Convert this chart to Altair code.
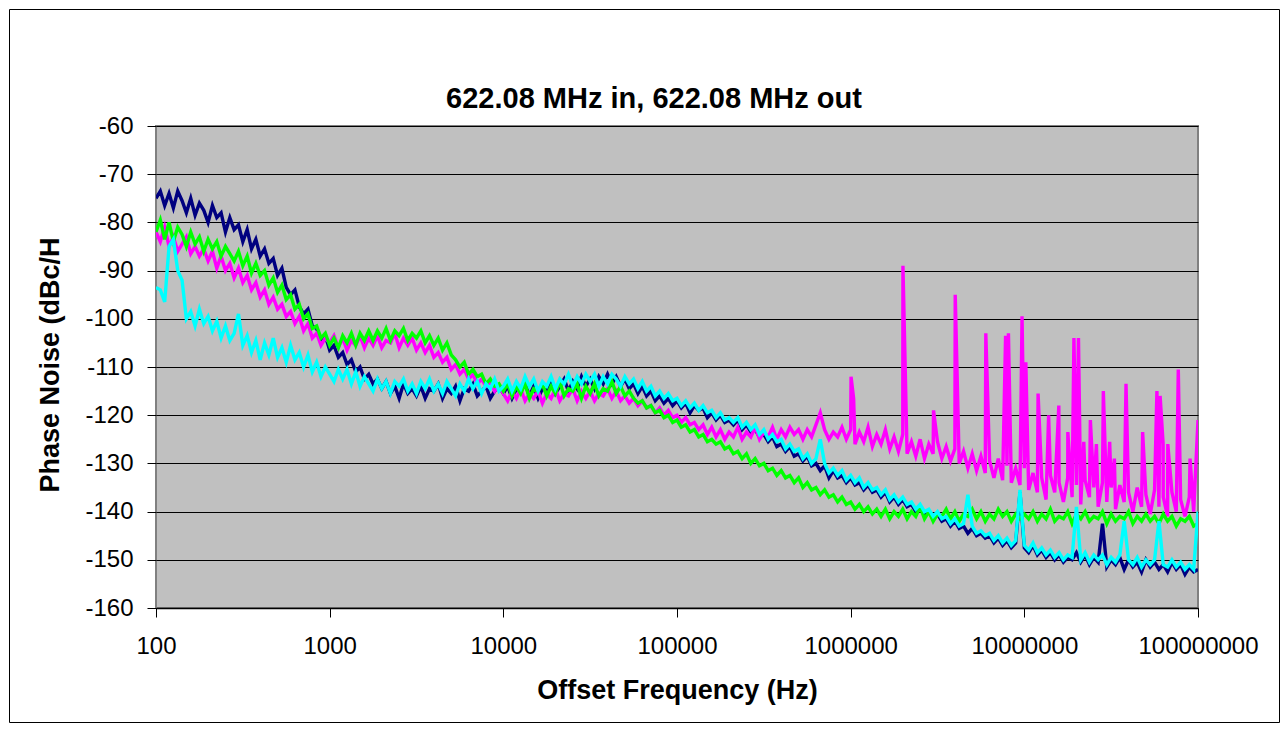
import altair as alt
import pandas as pd

TITLE = "622.08 MHz in, 622.08 MHz out"
X_TITLE = "Offset Frequency (Hz)"
Y_TITLE = "Phase Noise (dBc/H"

X_TICKS = [100, 1000, 10000, 100000, 1000000, 10000000, 100000000]
Y_TICKS = [-160, -150, -140, -130, -120, -110, -100, -90, -80, -70, -60]

DECADES = [100, 1000, 10000, 100000, 1000000, 10000000]
MANTISSAS = [1.000, 1.059, 1.122, 1.189, 1.259, 1.334, 1.413, 1.496, 1.585, 1.679,
             1.778, 1.884, 1.995, 2.113, 2.239, 2.371, 2.512, 2.661, 2.818, 2.985,
             3.162, 3.350, 3.548, 3.758, 3.981, 4.217, 4.467, 4.732, 5.012, 5.309,
             5.623, 5.957, 6.310, 6.683, 7.079, 7.499, 7.943, 8.414, 8.913, 9.441]
LAST_FREQ = 100000000

# ---- dark blue trace (dBc/Hz), one row per decade ----
NAVY = [
    [-75, -73.5, -76.5, -74, -77, -73.5, -75.5, -78, -75, -78.5,
     -76, -77.5, -80, -76.5, -79, -78, -82, -79, -81.5, -80.5,
     -84, -81.5, -85.5, -83.5, -87, -85.5, -88.5, -87.5, -91, -89.5,
     -93.5, -95, -94, -97.5, -99, -98, -101.5, -102, -104.5, -103.5],
    [-106.5, -105.5, -108, -107, -109.5, -108.5, -111, -110, -112.5, -111.5,
     -113.5, -112.5, -114.5, -113, -115.5, -114, -116.5, -113.5, -115.5, -114.5,
     -116, -114, -116.5, -114.5, -115, -113.5, -116.5, -114.5, -115.5, -114,
     -117, -114.5, -115, -113.5, -116, -115, -114, -116.5, -115, -114],
    [-115.5, -114, -116.5, -114.5, -115, -113.5, -116, -114, -116.5, -114.5,
     -115, -113, -115.5, -114, -112.5, -115, -113, -114.5, -112, -114,
     -112.5, -114.5, -112, -113.5, -111.5, -113.5, -112, -114, -112.5, -114.5,
     -113.5, -115.5, -114, -116, -115, -117, -116, -117.5, -116.5, -118],
    [-117, -118.5, -117.5, -119.5, -118, -119, -118.5, -120.5, -119.5, -121,
     -120, -121.5, -121, -122, -121, -123, -122, -123.5, -123, -124.5,
     -124, -125.5, -124.5, -126.5, -126, -127.5, -126.5, -128.5, -128, -129.5,
     -128.5, -130.5, -130, -131.5, -130.5, -133, -131.5, -133, -132.5, -134],
    [-133, -134.5, -134, -135.5, -134.5, -136, -135.5, -137, -136, -138,
     -137, -138.5, -137.5, -139, -138.5, -140, -139, -140.5, -140, -141.5,
     -140.5, -142, -141.5, -143, -142, -143.5, -143, -144.5, -143.5, -145,
     -144.5, -145.5, -145, -146.5, -145.5, -147, -146, -147.5, -146.5, -136],
    [-147.5, -148.5, -147, -149, -148, -149.5, -148.5, -150, -149, -150.5,
     -149.5, -150, -148.5, -150.5, -149, -151, -149.5, -150.5, -142.5, -151.5,
     -150, -151, -149.5, -152, -150, -151.5, -150.5, -152.5, -150, -151.5,
     -150.5, -152, -151, -152.5, -150.5, -152, -151, -153, -151.5, -152.5],
]
NAVY_LAST = -152

# ---- magenta trace ----
MAGENTA = [
    [-82, -84, -81, -85, -83, -86, -84.5, -83, -86.5, -85,
     -87, -85.5, -88, -86, -89.5, -87, -90, -88.5, -91.5, -89.5,
     -92.5, -91, -94, -92.5, -95.5, -94, -97, -95.5, -98, -97,
     -99.5, -98.5, -101, -99.5, -102.5, -101, -104, -103, -105.5, -104],
    [-105, -103.5, -106, -104, -106.5, -104.5, -105.5, -103.5, -106, -104,
     -105.5, -103.5, -106, -104.5, -105, -103, -106, -104, -105.5, -104,
     -106.5, -105, -107, -105.5, -108, -107, -109, -108, -110.5, -109.5,
     -111.5, -110.5, -112.5, -111.5, -113.5, -112.5, -114, -113, -115, -114],
    [-115.5, -117, -115, -116.5, -114.5, -117, -115.5, -116.5, -115, -117.5,
     -115.5, -116.5, -114.5, -117, -115.5, -116, -114.5, -117, -115, -116.5,
     -115, -117, -115.5, -116, -114.5, -116.5, -115, -117, -116, -117.5,
     -116.5, -118, -117, -118.5, -118, -119.5, -118.5, -120, -119, -120.5],
    [-120, -121.5, -120.5, -122, -121.5, -123, -122, -124, -122.5, -124.5,
     -123, -125, -123.5, -124.5, -122.5, -125, -123.5, -124.5, -122.5, -125,
     -123.5, -124.5, -122.5, -125, -123, -124.5, -122.5, -124, -123, -125,
     -123, -124.5, -122, -119.5, -123, -125, -123.5, -124.5, -122.5, -125],
    [-123, -126, -123.5, -125.5, -122.5, -126.5, -124, -126, -123, -127,
     -124.5, -127.5, -124, -128, -125.5, -128.5, -125, -129, -126, -128,
     -125.5, -129, -126.5, -129.5, -127, -130, -127.5, -131, -128, -131.5,
     -128.5, -132, -129.5, -133, -129, -133.5, -130.5, -134, -131, -134.5],
    [-131, -135.5, -132, -136, -133, -137.5, -132.5, -136, -134, -138,
     -133, -137, -134.5, -138.5, -133.5, -137, -135, -139, -134, -138,
     -135, -139.5, -134.5, -138, -136, -140, -135, -139, -136.5, -140.5,
     -135.5, -139, -137, -141, -136, -140, -137.5, -141, -137, -140],
]
MAGENTA_LAST = -121
SPUR_FREQS = [1005000, 1040000, 2000000, 3000000, 4000000, 6000000, 7800000, 8100000,
              9700000, 10200000, 12000000, 13800000, 15800000, 17800000, 19300000,
              20500000, 22000000, 24000000, 26000000, 28500000, 31000000, 33000000,
              38500000, 48000000, 58000000, 60500000, 63000000, 67000000, 77000000,
              90000000]
SPUR_LEVELS = [-112, -116.5, -89, -119, -95, -103, -103.5, -103,
               -99.5, -109, -115.5, -120, -118, -123.5, -104,
               -104, -125.5, -121, -126, -115, -125.5, -129,
               -113.5, -123.5, -115, -116, -126, -126, -110.5,
               -129]

# ---- green trace ----
GREEN = [
    [-82, -79.5, -83.5, -80, -84, -81, -82.5, -85, -82, -84.5,
     -83, -86, -83.5, -85.5, -84, -87, -85, -86.5, -88, -86,
     -89, -87, -90.5, -88.5, -91, -90, -93, -91.5, -94.5, -93,
     -96, -95, -98, -97, -100, -99, -102, -101.5, -104, -103],
    [-105.5, -104, -106, -103.5, -105, -103, -105.5, -103, -104.5, -102.5,
     -104.5, -102.5, -104, -102, -104.5, -102.5, -103.5, -102, -104.5, -103,
     -104, -102.5, -105, -103.5, -105.5, -104, -106.5, -105, -107.5, -108.5,
     -110, -109, -111.5, -110.5, -112, -111.5, -113.5, -112.5, -114, -113.5],
    [-115, -113.5, -116, -114, -115.5, -113.5, -116.5, -114.5, -115, -113.5,
     -116, -114, -115.5, -113, -116, -114.5, -115, -113.5, -116.5, -114,
     -115.5, -113.5, -116, -114.5, -115, -113, -115.5, -114, -116, -115,
     -116.5, -117.5, -117, -118.5, -118, -119.5, -119, -120.5, -120, -121.5],
    [-121, -122.5, -122, -123.5, -123, -124.5, -124, -125.5, -125, -126,
     -125.5, -127, -126.5, -128, -127.5, -129, -128, -130, -129, -130.5,
     -130, -131.5, -131, -132.5, -131.5, -133, -132.5, -134, -133, -135,
     -134, -135.5, -135, -136.5, -135.5, -137, -136.5, -138, -137, -138.5],
    [-138, -139.5, -138.5, -140, -139, -140.5, -139.5, -141, -139.5, -141.5,
     -140, -141, -139.5, -141.5, -140, -141, -139, -141.5, -140, -142,
     -140.5, -141, -139.5, -141.5, -140, -142, -140.5, -141, -139.5, -141.5,
     -140, -142, -140.5, -141.5, -139.5, -141, -140, -142, -140.5, -141.5],
    [-140.5, -141.5, -140, -142, -140.5, -141.5, -139.5, -142, -141, -141.5,
     -140, -142.5, -140.5, -141.5, -140, -142, -141, -141.5, -140, -142.5,
     -140.5, -142, -141, -141.5, -140, -142.5, -141, -142, -140.5, -142,
     -141, -142.5, -140.5, -142, -141, -143, -141.5, -142, -141, -143],
]
GREEN_LAST = -142.5

# ---- cyan trace ----
CYAN = [
    [-93.5, -94, -96.5, -85, -83.5, -90, -92, -100, -98.5, -101.5,
     -98, -101, -99.5, -102.5, -100.5, -104, -101.5, -104.5, -103, -99,
     -105.5, -103.5, -107, -104.5, -108.5, -105, -107.5, -104, -108, -106,
     -109, -105.5, -108.5, -107, -110, -107.5, -111, -109, -112, -110],
    [-111.5, -113, -110.5, -112.5, -110.5, -113.5, -111, -114, -112, -113.5,
     -115, -112.5, -114.5, -113, -115.5, -113, -114, -112.5, -115, -113.5,
     -115.5, -113, -114.5, -112.5, -115, -113.5, -115.5, -113, -114.5, -116,
     -113.5, -115, -112.5, -114.5, -113, -115.5, -113.5, -114.5, -112.5, -115],
    [-114, -112.5, -115, -113, -114.5, -112, -114, -112.5, -115, -113,
     -114, -112, -114.5, -112.5, -113.5, -111.5, -114, -112, -113.5, -111.5,
     -113, -111.5, -114, -112, -113.5, -111.5, -112.5, -114, -112, -113.5,
     -112.5, -114.5, -113, -115, -114, -116, -115, -116.5, -115.5, -117],
    [-116.5, -118, -117, -118.5, -117.5, -119, -118, -119.5, -119, -120.5,
     -119.5, -121, -120.5, -121.5, -120.5, -122.5, -121.5, -123, -122, -124,
     -123, -125, -124, -125.5, -125, -127, -126, -127.5, -127, -129,
     -128, -130, -129, -125, -130, -132, -131, -132.5, -131.5, -133.5],
    [-132.5, -134, -133, -135, -134, -135.5, -135, -136.5, -135.5, -137.5,
     -136.5, -138, -137, -138.5, -138, -139.5, -138.5, -140, -139.5, -141,
     -140, -141.5, -141, -142.5, -141.5, -143, -142.5, -136.5, -143, -144.5,
     -144, -145, -144.5, -146, -145, -146.5, -145.5, -147, -146, -135.5],
    [-147, -148, -146.5, -148.5, -147.5, -149, -148, -149.5, -148.5, -150,
     -149, -149.5, -139, -150, -148.5, -150.5, -149, -150, -149, -151,
     -149.5, -150.5, -149, -142, -150, -151, -149.5, -151.5, -150, -151,
     -150, -142, -151, -151.5, -150, -151.5, -150.5, -152, -151, -152],
]
CYAN_LAST = -140

COLORS = {"navy": "#000080", "magenta": "#FF00FF", "green": "#00FF00", "cyan": "#00FFFF"}

FREQS = [m * d for d in DECADES for m in MANTISSAS] + [LAST_FREQ]


def table(rows, last):
    vals = [v for row in rows for v in row] + [last]
    assert len(vals) == len(FREQS)
    return pd.DataFrame({"freq": FREQS, "value": vals})


navy_df = table(NAVY, NAVY_LAST)
green_df = table(GREEN, GREEN_LAST)
cyan_df = table(CYAN, CYAN_LAST)
mag_df = pd.concat([table(MAGENTA, MAGENTA_LAST),
                    pd.DataFrame({"freq": SPUR_FREQS, "value": SPUR_LEVELS})])
mag_df = mag_df.sort_values("freq", kind="mergesort").reset_index(drop=True)
mag_df["idx"] = range(len(mag_df))
for d in (navy_df, green_df, cyan_df):
    d["idx"] = range(len(d))

FONT = "Liberation Sans"
W, H = 1042, 482

x_enc = alt.X("freq:Q",
              scale=alt.Scale(type="log", domain=[100, 100000000], nice=False),
              axis=alt.Axis(values=X_TICKS, labelExpr="'' + datum.value", grid=False,
                            title=X_TITLE, titleX=W / 2, titleY=90,
                            titleBaseline="alphabetic", labelBaseline="alphabetic",
                            labelPadding=36, labelFlush=False, labelOverlap=False,
                            domainColor="black", domainWidth=1.5))
y_enc = alt.Y("value:Q",
              scale=alt.Scale(domain=[-160, -60], nice=False, zero=False),
              axis=alt.Axis(values=Y_TICKS, labelExpr="'' + datum.value", grid=True,
                            title=Y_TITLE, titleX=-98, titleY=366, titleAlign="left",
                            titleBaseline="alphabetic", titleAngle=270,
                            labelPadding=14, domain=False))


def trace(df, key):
    return alt.Chart(df).mark_line(color=COLORS[key], strokeWidth=3.4, clip=True).encode(
        x=x_enc, y=y_enc, order="idx:Q")


border = alt.Chart(alt.Data(values=[{}])).mark_rect(
    fillOpacity=0, stroke="black", strokeWidth=1).encode(
    x=alt.value(-146.5), x2=alt.value(1123.5), y=alt.value(-116.5), y2=alt.value(596.5))

title = alt.Chart(alt.Data(values=[{}])).mark_text(
    text=TITLE, font=FONT, fontSize=29, fontWeight="bold", align="center",
    baseline="alphabetic", color="black").encode(x=alt.value(498), y=alt.value(-18))

chart = alt.layer(
    trace(navy_df, "navy"),
    trace(mag_df, "magenta"),
    trace(green_df, "green"),
    trace(cyan_df, "cyan"),
    border,
    title,
).properties(
    width=W, height=H,
    padding={"left": 148, "top": 118, "right": 82, "bottom": 115},
    autosize=alt.AutoSizeParams(type="none"),
    background="white",
).configure_view(
    fill="#C0C0C0", stroke="#808080", strokeWidth=2
).configure_axis(
    labelFont=FONT, labelFontSize=24, labelColor="black",
    titleFont=FONT, titleFontSize=27, titleFontWeight="bold", titleColor="black",
    tickColor="black", tickSize=9, tickWidth=1,
    gridColor="black", gridOpacity=1, gridWidth=1,
)

chart.save("out.html", embed_options={"renderer": "svg", "actions": False})
